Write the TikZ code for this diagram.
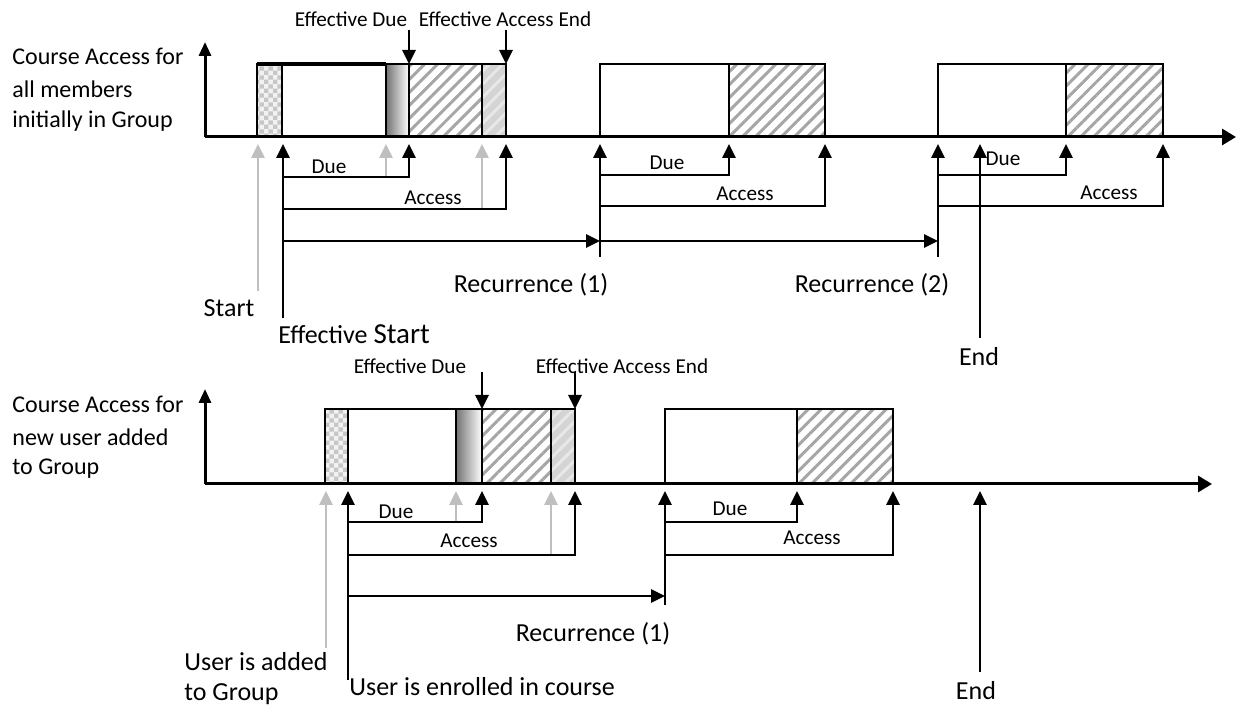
\documentclass[tikz,border=0pt]{standalone}
\usepackage{fontspec}
\setmainfont{Carlito}
\usetikzlibrary{arrows.meta,patterns,patterns.meta}
\pgfdeclarepatternformonly{finechk}{\pgfpointorigin}{\pgfqpoint{4.4pt}{4.4pt}}{\pgfqpoint{4.4pt}{4.4pt}}{%
  \pgfpathrectangle{\pgfpointorigin}{\pgfqpoint{2.2pt}{2.2pt}}%
  \pgfpathrectangle{\pgfqpoint{2.2pt}{2.2pt}}{\pgfqpoint{2.2pt}{2.2pt}}%
  \pgfusepath{fill}}
\begin{document}
\begin{tikzpicture}[x=0.5pt,y=-0.5pt,
  axh/.style={line width=1.5pt,-{Triangle[width=8pt,length=7pt]}},
  axv/.style={line width=1.5pt,-{Triangle[width=6pt,length=7pt]}},
  blk/.style={line width=1.3pt,-{Triangle[width=6.5pt,length=7pt]}},
  gry/.style={line width=1.3pt,draw=black!25,-{Triangle[width=6.5pt,length=7pt]}},
  box/.style={draw,line width=1pt},
  chk/.style={pattern=finechk,pattern color=black!22},
  hatch/.style={pattern={Lines[angle=45,distance=4.6pt,line width=1.5pt]},pattern color=black!35},
  lhatch/.style={pattern={Lines[angle=45,distance=4.6pt,line width=1.5pt]},pattern color=black!9},
  sm/.style={inner sep=0pt,font=\fontsize{10.6pt}{12pt}\selectfont},
  md/.style={inner sep=0pt,font=\fontsize{12pt}{14pt}\selectfont,anchor=west},
  bg/.style={inner sep=0pt,font=\fontsize{13pt}{15pt}\selectfont}]
\useasboundingbox (0,0) rectangle (1238,710);

%% ================= TOP =================
\coordinate (o1) at (205,137);
\coordinate (y1) at (205,42);
\coordinate (x1) at (1236,137);
% box 1 fills
\fill[black!5] (257,64) rectangle (282,137);
\path[chk] (257,64) rectangle (282,137);
\shade[left color=black!55,right color=white] (386,64) rectangle (409,137);
\path[hatch] (409,64) rectangle (482,137);
\fill[black!17] (482,64) rectangle (506,137);
\path[lhatch] (482,64) rectangle (506,137);
\draw[box] (257,64) rectangle (506,137);
\draw[line width=1.6pt] (257,64) -- (386,64);
\foreach \xx in {282,386,409,482} \draw[box] (\xx,64) -- (\xx,137);
% box 2, 3
\path[hatch] (729,64) rectangle (825,137);
\draw[box] (600,64) rectangle (825,137);
\draw[box] (729,64) -- (729,137);
\path[hatch] (1066,64) rectangle (1163,137);
\draw[box] (938,64) rectangle (1163,137);
\draw[box] (1066,64) -- (1066,137);
% axes
\draw[axv] (o1) -- (y1);
\draw[axh] (o1) -- (x1);
% effective due / access end
\coordinate (ed1a) at (409,30); \coordinate (ed1b) at (409,64);
\coordinate (ea1a) at (506,30); \coordinate (ea1b) at (506,64);
\draw[blk] (ed1a) -- (ed1b);
\draw[blk] (ea1a) -- (ea1b);
\node[sm] (led1) at (351,19) {Effective Due};
\node[sm] (lea1) at (505,19) {Effective Access End};
% under-axis arrows
\coordinate (st1) at (258,291);   \coordinate (st1t) at (258,144);
\coordinate (es1) at (283,318);   \coordinate (es1t) at (283,144);
\coordinate (g1a) at (386,177);   \coordinate (g1at) at (386,144);
\coordinate (g1b) at (482,209);   \coordinate (g1bt) at (482,144);
\coordinate (du1) at (283,177);   \coordinate (du1t) at (409,144);
\coordinate (ac1) at (283,209);   \coordinate (ac1t) at (506,144);
\draw[gry] (st1) -- (st1t);
\draw[blk] (es1) -- (es1t);
\draw[gry] (g1a) -- (g1at);
\draw[gry] (g1b) -- (g1bt);
\draw[blk] (du1) -| (du1t);
\draw[blk] (ac1) -| (ac1t);
\node[sm] (ldu1) at (329,167) {Due};
\node[sm] (lac1) at (433,198) {Access};
% recurrence arrows
\coordinate (r0) at (283,241); \coordinate (r1) at (600,241); \coordinate (r2) at (938,241);
\draw[blk] (r0) -- (r1);
\draw[blk] (r1) -- (r2);
% box 2 brackets
\coordinate (b2s) at (600,257); \coordinate (b2t) at (600,144);
\coordinate (du2) at (600,175); \coordinate (du2t) at (729,144);
\coordinate (ac2) at (600,206); \coordinate (ac2t) at (825,144);
\draw[blk] (b2s) -- (b2t);
\draw[blk] (du2) -| (du2t);
\draw[blk] (ac2) -| (ac2t);
\node[sm] (ldu2) at (667,163) {Due};
\node[sm] (lac2) at (745,194) {Access};
% box 3 brackets
\coordinate (b3s) at (938,257); \coordinate (b3t) at (938,144);
\coordinate (du3) at (938,175); \coordinate (du3t) at (1066,144);
\coordinate (ac3) at (938,206); \coordinate (ac3t) at (1163,144);
\draw[blk] (b3s) -- (b3t);
\draw[blk] (du3) -| (du3t);
\draw[blk] (ac3) -| (ac3t);
\node[sm] (ldu3) at (1003,159) {Due};
\node[sm] (lac3) at (1109,193) {Access};
% end
\coordinate (en1) at (980,338); \coordinate (en1t) at (980,144);
\draw[blk] (en1) -- (en1t);
% labels
\node[bg] (lst1) at (229,308) {Start};
\node[bg,anchor=west] (les1) at (278,334) {Effective {\fontsize{14.5pt}{16pt}\selectfont Start}};
\node[bg] (lr11) at (531,285) {Recurrence (1)};
\node[bg] (lr12) at (872,285) {Recurrence (2)};
\node[bg] (len1) at (979,357) {End};
\node[md] (lt1) at (12,56) {Course Access for};
\node[md] (lt2) at (12,89) {all members};
\node[md] (lt3) at (12,121) {initially in Group};

%% ================= BOTTOM =================
\coordinate (o2) at (205,484);
\coordinate (y2) at (205,389);
\coordinate (x2) at (1212,484);
\fill[black!5] (325,409) rectangle (348,484);
\path[chk] (325,409) rectangle (348,484);
\shade[left color=black!55,right color=white] (456,409) rectangle (482,484);
\path[hatch] (482,409) rectangle (551,484);
\fill[black!17] (551,409) rectangle (575,484);
\path[lhatch] (551,409) rectangle (575,484);
\draw[box] (325,409) rectangle (575,484);
\foreach \xx in {348,456,482,551} \draw[box] (\xx,409) -- (\xx,484);
\path[hatch] (797,409) rectangle (893,484);
\draw[box] (665,409) rectangle (893,484);
\draw[box] (797,409) -- (797,484);
\draw[axv] (o2) -- (y2);
\draw[axh] (o2) -- (x2);
% effective due / access end
\coordinate (ed2a) at (482,372); \coordinate (ed2b) at (482,409);
\coordinate (ea2a) at (575,372); \coordinate (ea2b) at (575,409);
\draw[blk] (ed2a) -- (ed2b);
\draw[blk] (ea2a) -- (ea2b);
\node[sm] (led2) at (410,366) {Effective Due};
\node[sm] (lea2) at (622,366) {Effective Access End};
% under-axis arrows
\coordinate (st2) at (326,648);   \coordinate (st2t) at (326,491);
\coordinate (es2) at (348,680);   \coordinate (es2t) at (348,491);
\coordinate (g2a) at (456,522);   \coordinate (g2at) at (456,491);
\coordinate (g2b) at (551,555);   \coordinate (g2bt) at (551,491);
\coordinate (du4) at (348,522);   \coordinate (du4t) at (482,491);
\coordinate (ac4) at (348,555);   \coordinate (ac4t) at (575,491);
\draw[gry] (st2) -- (st2t);
\draw[blk] (es2) -- (es2t);
\draw[gry] (g2a) -- (g2at);
\draw[gry] (g2b) -- (g2bt);
\draw[blk] (du4) -| (du4t);
\draw[blk] (ac4) -| (ac4t);
\node[sm] (ldu4) at (396,512) {Due};
\node[sm] (lac4) at (469,541) {Access};
% recurrence
\coordinate (r3) at (348,596); \coordinate (r4) at (665,596);
\draw[blk] (r3) -- (r4);
\coordinate (b5s) at (665,605); \coordinate (b5t) at (665,491);
\coordinate (du5) at (665,522); \coordinate (du5t) at (797,491);
\coordinate (ac5) at (665,555); \coordinate (ac5t) at (893,491);
\draw[blk] (b5s) -- (b5t);
\draw[blk] (du5) -| (du5t);
\draw[blk] (ac5) -| (ac5t);
\node[sm] (ldu5) at (730,509) {Due};
\node[sm] (lac5) at (812,538) {Access};
% end
\coordinate (en2) at (980,672); \coordinate (en2t) at (980,491);
\draw[blk] (en2) -- (en2t);
% labels
\node[bg] (lr21) at (593,634) {Recurrence (1)};
\node[bg] (len2) at (976,691) {End};
\node[bg,anchor=west] (lua1) at (184,662) {User is added};
\node[bg,anchor=west] (lua2) at (184,694) {to Group};
\node[bg,anchor=west] (lue) at (349,687) {User is enrolled in course};
\node[md] (lb1) at (12,404) {Course Access for};
\node[md] (lb2) at (12,437) {new user added};
\node[md] (lb3) at (12,469) {to Group};
\end{tikzpicture}
\end{document}
